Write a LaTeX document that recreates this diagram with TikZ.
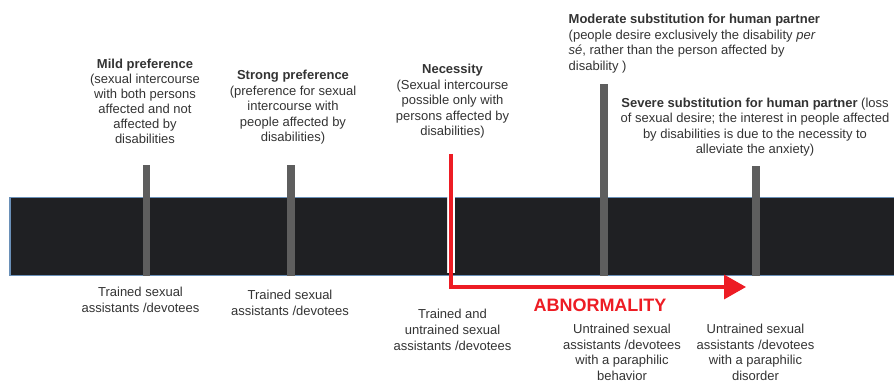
\documentclass[tikz,border=0pt]{standalone}
\usepackage{fontspec}
\setmainfont{Liberation Sans}
\usepackage{xcolor}
\usepackage{tikz}
\usetikzlibrary{arrows.meta,positioning}

\definecolor{inkgray}{HTML}{333333}
\definecolor{tickgray}{HTML}{5E5E5E}
\definecolor{barfill}{HTML}{1F2023}
\definecolor{barline}{HTML}{6A90B8}
\definecolor{alertred}{HTML}{ED1C24}

\begin{document}
\begin{tikzpicture}[
    x=1pt, y=-1pt,
    phase/.style={align=center, anchor=base, inner sep=0pt, text=inkgray, font=\fontsize{13}{15.6}\selectfont},
    helper/.style={align=center, anchor=base, inner sep=0pt, text=inkgray, font=\fontsize{13}{15.6}\selectfont},
    redtext/.style={anchor=base, inner sep=0pt, text=alertred, font=\fontsize{18}{20}\selectfont\bfseries},
    tickbar/.style={rectangle, fill=tickgray, minimum width=7.5pt, inner sep=0pt, anchor=south}
]
    \useasboundingbox (0,0) rectangle (894,382);

    \fill[barfill] (10,197.7) rectangle (894,275.7);
    \draw[barline, line width=1.5pt] (894,197.7) -- (10,197.7) -- (10,275.7) -- (894,275.7);
    \fill[white] (447,196.5) rectangle (455,273);
    \draw[gray!25, line width=1pt] (447.5,197) -- (447.5,273);

    \node[tickbar, minimum height=111pt] (mildtick) at (146.5,276) {};
    \node[tickbar, minimum height=111pt] (strongtick) at (291,276) {};
    \node[tickbar, minimum height=192pt] (moderatetick) at (604,276) {};
    \node[tickbar, minimum height=110pt] (severetick) at (756,276) {};

    \node[phase, font=\fontsize{13}{15}\selectfont] (mild) at (145,144) {\textbf{Mild preference}\\(sexual intercourse\\with both persons\\affected and not\\affected by\\disabilities};
    \node[phase] (strong) at (293,142) {\textbf{Strong preference}\\(preference for sexual\\intercourse with\\people affected by\\disabilities)};
    \node[phase] (necessity) at (452.5,136) {\textbf{Necessity}\\(Sexual intercourse\\possible only with\\persons affected by\\disabilities)};
    \node[phase, align=left, anchor=base west] (moderate) at (568.5,70.5) {\textbf{Moderate substitution for human partner}\\(people desire exclusively the disability \textit{per}\\\textit{sé}, rather than the person affected by\\disability )};
    \node[phase] (severe) at (755,154) {\textbf{Severe substitution for human partner} (loss\\of sexual desire; the interest in people affected\\by disabilities is due to the necessity to\\alleviate the anxiety)};

    \node[helper] (trainedA) at (140.5,312) {Trained sexual\\assistants /devotees};
    \node[helper] (trainedB) at (290,315.5) {Trained sexual\\assistants /devotees};
    \node[helper] (mixed) at (452.5,350) {Trained and\\untrained sexual\\assistants /devotees};
    \node[helper] (behavior) at (622,380.5) {Untrained sexual\\assistants /devotees\\with a paraphilic\\behavior};
    \node[helper] (disorder) at (755.5,380.5) {Untrained sexual\\assistants /devotees\\with a paraphilic\\disorder};

    \node[redtext] (abnormality) at (600,311.5) {ABNORMALITY};

    \coordinate (shiftstart) at (451,154);
    \coordinate (shiftend) at (746,287);
    \draw[alertred, line width=3.5pt, -{Triangle[length=22pt,width=24pt]}] (shiftstart) |- (shiftend);
\end{tikzpicture}
\end{document}
